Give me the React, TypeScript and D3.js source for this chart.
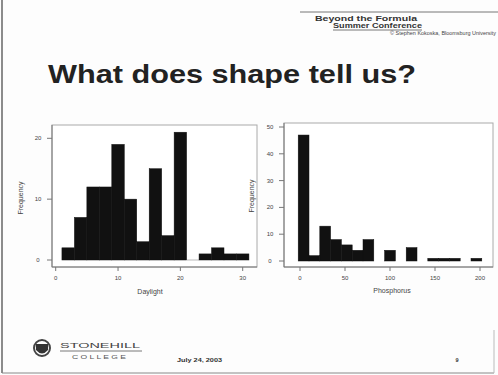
import React from "react";
import * as d3 from "d3";

// Left histogram (Daylight), bins of width 2
const leftBinStarts = [1, 3, 5, 7, 9, 11, 13, 15, 17, 19, 21, 23, 25, 27, 29];
const leftCounts = [2, 7, 12, 12, 19, 10, 3, 15, 4, 21, 0, 1, 2, 1, 1];
const leftBinWidth = 2;
const leftXTicks = [0, 10, 20, 30];
const leftYTicks = [0, 10, 20];

// Right histogram, bins of width 12
const rightBinStarts = [-2, 10, 22, 34, 46, 58, 70, 82, 94, 106, 118, 130, 142, 154, 166, 178, 190];
const rightCounts = [47, 2, 13, 8, 6, 4, 8, 0, 4, 0, 5, 0, 1, 1, 1, 0, 1];
const rightBinWidth = 12;
const rightXTicks = [0, 50, 100, 150, 200];
const rightYTicks = [0, 10, 20, 30, 40, 50];

const FONT = "Liberation Sans, Arial, Helvetica, sans-serif";

export default function App() {
  const xL = d3.scaleLinear().domain([0, 30]).range([55.7, 242.7]);
  const yL = d3.scaleLinear().domain([0, 20]).range([260, 138.3]);
  const xR = d3.scaleLinear().domain([0, 200]).range([300, 480]);
  const yR = d3.scaleLinear().domain([0, 50]).range([261, 127]);

  const barFill = "#111";
  const axisCol = "#777";
  const tickTxt = "#444";

  return (
    <svg
      width={498}
      height={375}
      style={{ position: "absolute", left: 0, top: 0, background: "#fff" }}
      fontFamily={FONT}
    >
      <rect x={0} y={0} width={498} height={375} fill="#fdfdfd" />
      {/* slide border */}
      <line x1={2} y1={0} x2={2} y2={373} stroke="#666" strokeWidth={1.5} />
      <line x1={2} y1={373} x2={494} y2={373} stroke="#888" strokeWidth={1} />
      <line x1={494} y1={330} x2={494} y2={373} stroke="#bbb" strokeWidth={1} />

      {/* header */}
      <line x1={300} y1={12} x2={498} y2={12} stroke="#777" strokeWidth={1} />
      <text x={315} y={21} fontSize={8} fontWeight="bold" fill="#333" textLength={102} lengthAdjust="spacingAndGlyphs">
        Beyond the Formula
      </text>
      <text x={333} y={28} fontSize={7} fontWeight="bold" fill="#333" textLength={89} lengthAdjust="spacingAndGlyphs">
        Summer Conference
      </text>
      <line x1={333} y1={30} x2={422} y2={30} stroke="#555" strokeWidth={0.8} />
      <text x={390} y={35} fontSize={4.5} fill="#444" textLength={106} lengthAdjust="spacingAndGlyphs">
        © Stephen Kokoska, Bloomsburg University
      </text>

      {/* title */}
      <text x={48} y={83} fontSize={26} fontWeight="bold" fill="#222" textLength={368} lengthAdjust="spacingAndGlyphs">
        What does shape tell us?
      </text>

      {/* LEFT PANEL */}
      <rect x={52} y={125} width={205} height={142} fill="#fff" stroke="#aaa" strokeWidth={1} />
      <line x1={52} y1={125} x2={52} y2={267} stroke={axisCol} strokeWidth={1} />
      <line x1={52} y1={267} x2={257} y2={267} stroke={axisCol} strokeWidth={1} />
      <line x1={xL(21)} y1={yL(0)} x2={xL(23)} y2={yL(0)} stroke="#bbb" strokeWidth={1} />
      {leftBinStarts.map((s, i) =>
        leftCounts[i] > 0 ? (
          <rect
            key={"l" + i}
            x={xL(s)}
            y={yL(leftCounts[i])}
            width={xL(s + leftBinWidth) - xL(s)}
            height={yL(0) - yL(leftCounts[i])}
            fill={barFill}
            stroke={barFill}
            strokeWidth={0.5}
          />
        ) : null
      )}
      {leftYTicks.map((t) => (
        <g key={"ly" + t}>
          <line x1={47} y1={yL(t)} x2={52} y2={yL(t)} stroke={axisCol} />
          <text x={38} y={yL(t) + 2} fontSize={6} textAnchor="middle" fill={tickTxt}>
            {t}
          </text>
        </g>
      ))}
      {leftXTicks.map((t) => (
        <g key={"lx" + t}>
          <line x1={xL(t)} y1={267} x2={xL(t)} y2={271} stroke={axisCol} />
          <text x={xL(t)} y={280} fontSize={6} textAnchor="middle" fill={tickTxt}>
            {t}
          </text>
        </g>
      ))}
      <text x={150} y={294} fontSize={7} textAnchor="middle" fill="#444">
        Daylight
      </text>
      <text transform="translate(23,198) rotate(-90)" fontSize={7} textAnchor="middle" fill="#444">
        Frequency
      </text>

      {/* RIGHT PANEL */}
      <rect x={284} y={123} width={209} height={144} fill="#fff" stroke="#aaa" strokeWidth={1} />
      <line x1={284} y1={123} x2={284} y2={267} stroke={axisCol} strokeWidth={1} />
      <line x1={284} y1={267} x2={493} y2={267} stroke={axisCol} strokeWidth={1} />
      {rightBinStarts.map((s, i) =>
        rightCounts[i] > 0 ? (
          <rect
            key={"r" + i}
            x={xR(s)}
            y={yR(rightCounts[i])}
            width={xR(s + rightBinWidth) - xR(s)}
            height={yR(0) - yR(rightCounts[i])}
            fill={barFill}
            stroke={barFill}
            strokeWidth={0.5}
          />
        ) : null
      )}
      {rightYTicks.map((t) => (
        <g key={"ry" + t}>
          <line x1={279} y1={yR(t)} x2={284} y2={yR(t)} stroke={axisCol} />
          <text x={270} y={yR(t) + 2} fontSize={6} textAnchor="middle" fill={tickTxt}>
            {t}
          </text>
        </g>
      ))}
      {rightXTicks.map((t) => (
        <g key={"rx" + t}>
          <line x1={xR(t)} y1={267} x2={xR(t)} y2={271} stroke={axisCol} />
          <text x={xR(t)} y={280} fontSize={6} textAnchor="middle" fill={tickTxt}>
            {t}
          </text>
        </g>
      ))}
      <text x={392} y={293} fontSize={7} textAnchor="middle" fill="#444">
        Phosphorus
      </text>
      <text transform="translate(254,196) rotate(-90)" fontSize={7} textAnchor="middle" fill="#444">
        Frequency
      </text>

      {/* footer */}
      <g>
        <circle cx={42} cy={348} r={8} fill="none" stroke="#444" strokeWidth={2} />
        <path d="M36,344 L48,344 L48,350 Q42,357 36,350 Z" fill="#333" />
        <text x={60} y={348} fontSize={7} fill="#444" textLength={80} lengthAdjust="spacingAndGlyphs">
          STONEHILL
        </text>
        <line x1={60} y1={351} x2={142} y2={351} stroke="#555" strokeWidth={0.8} />
        <text x={72} y={359} fontSize={4.5} fill="#555" textLength={54} lengthAdjust="spacingAndGlyphs">
          C O L L E G E
        </text>
        <text x={177} y={362} fontSize={5} fontWeight="bold" fill="#333" textLength={45} lengthAdjust="spacingAndGlyphs">
          July 24, 2003
        </text>
        <text x={457} y={362} fontSize={5.5} fontWeight="bold" fill="#333" textAnchor="middle">
          9
        </text>
      </g>
    </svg>
  );
}
